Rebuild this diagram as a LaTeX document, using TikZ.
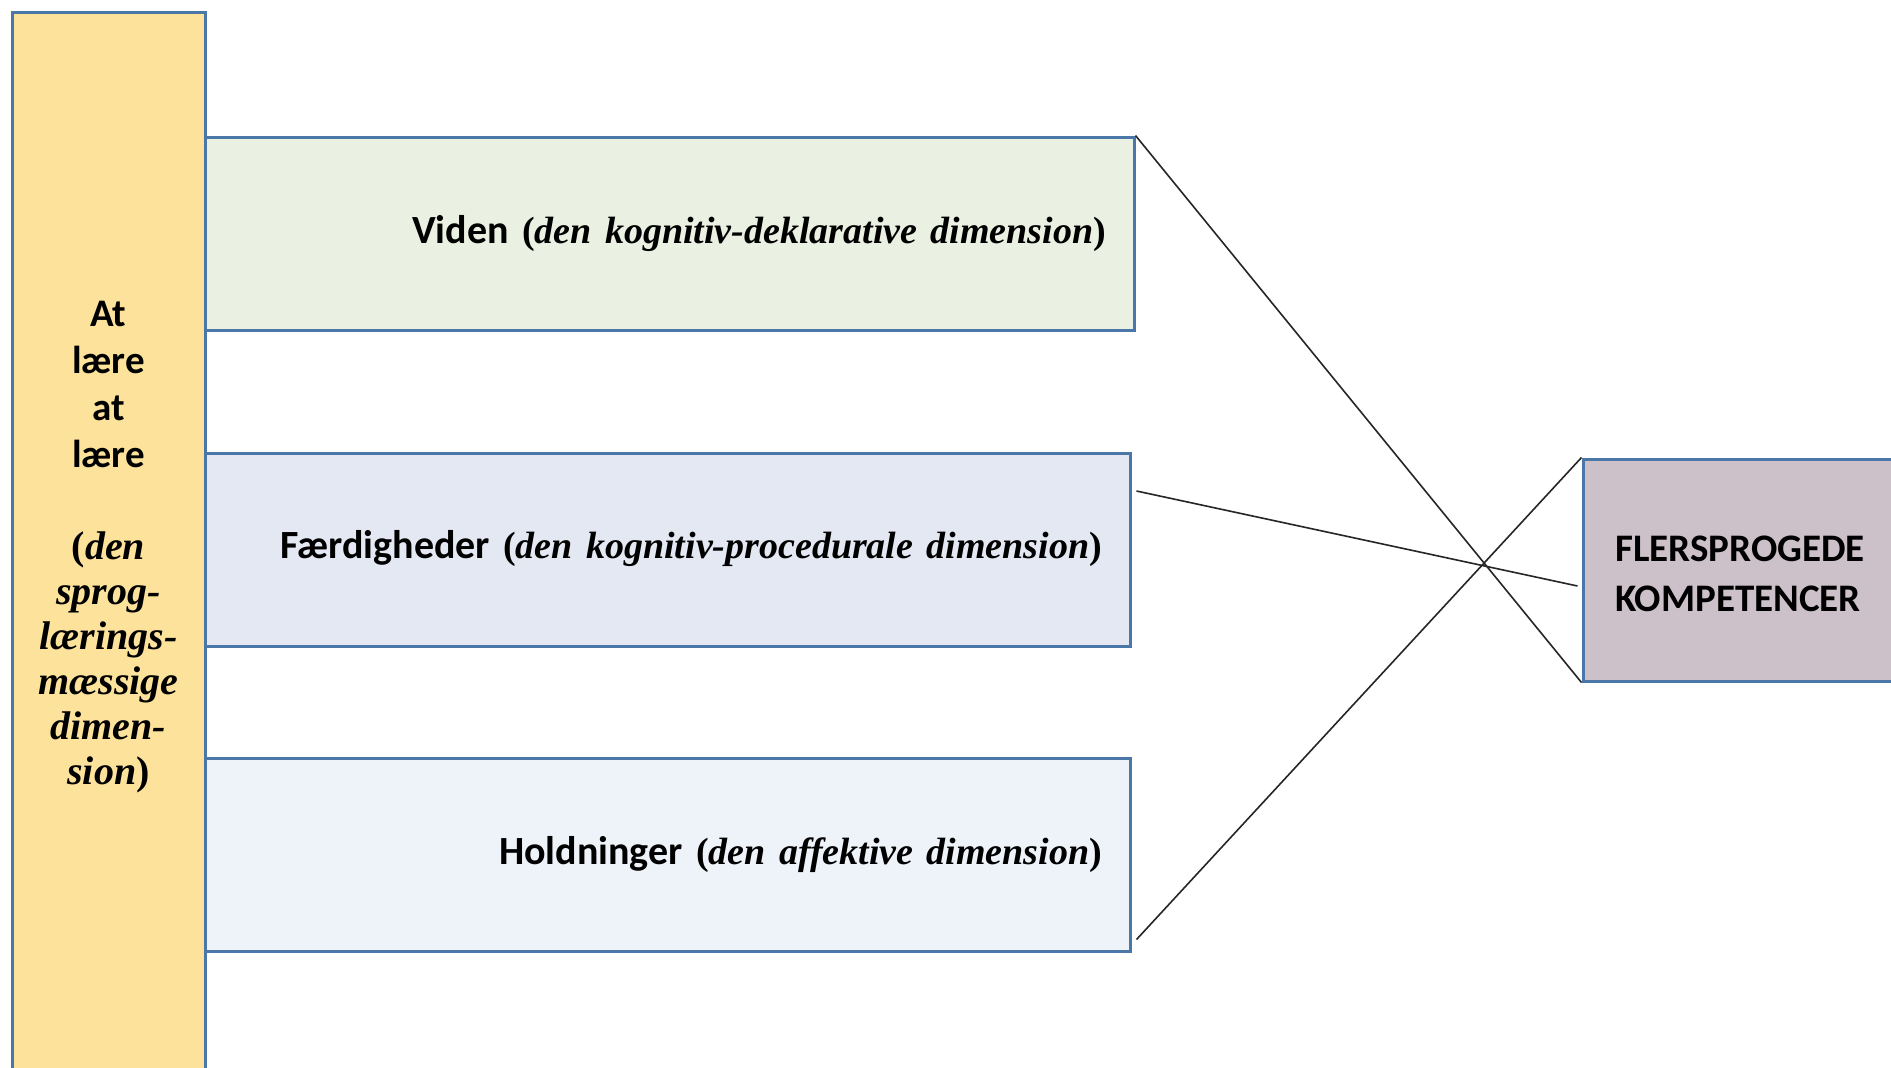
\documentclass[tikz,border=0pt]{standalone}
\usepackage{fontspec}
\setmainfont{Carlito}
\newfontfamily\calfont{Carlito}
\newfontfamily\tnrfont{Liberation Serif}
\usetikzlibrary{calc}
\definecolor{bordc}{HTML}{4A76A8}
\definecolor{yelc}{HTML}{FCE29A}
\definecolor{grnc}{HTML}{EAF1E2}
\definecolor{bluc}{HTML}{E3E8F3}
\definecolor{litc}{HTML}{EEF3F9}
\definecolor{purc}{HTML}{CCC1C9}
\newcommand{\tb}[1]{{\tnrfont\bfseries\fontsize{19pt}{23pt}\selectfont #1}}
\newcommand{\ti}[1]{{\tnrfont\bfseries\itshape\fontsize{19pt}{23pt}\selectfont #1}}
\tikzset{
  box/.style={draw=bordc, line width=1.5pt, rectangle, inner ysep=0pt, inner xsep=14pt, align=right,
    font=\calfont\bfseries\fontsize{20pt}{23pt}\selectfont, minimum height=96.5pt},
  conn/.style={draw=black!85, line width=0.8pt},
}
\begin{document}
\begin{tikzpicture}[x=0.5pt,y=-0.5pt]
\useasboundingbox (0,0) rectangle (1891,1067);
\fill[white] (0,0) rectangle (1891,1067);
% yellow column
\node[draw=bordc, line width=1.5pt, fill=yelc, minimum width=96.5pt, minimum height=534pt, inner sep=0pt] (yel) at (108.5,546) {};
\node[font=\calfont\bfseries\fontsize{19.5pt}{23.5pt}\selectfont, align=center, inner sep=0pt] (ytop) at (108.5,384) {At\\lære\\at\\lære};
\node[font=\fontsize{20pt}{22.5pt}\selectfont, align=center, inner sep=0pt] (ybot) at (108.5,662)
  {{\tnrfont\bfseries (}{\tnrfont\bfseries\itshape den}\\{\tnrfont\bfseries\itshape sprog-}\\{\tnrfont\bfseries\itshape lærings-}\\{\tnrfont\bfseries\itshape mæssige}\\{\tnrfont\bfseries\itshape dimen-}\\{\tnrfont\bfseries\itshape sion}{\tnrfont\bfseries )}};
% dimension boxes
\node[box, fill=grnc, text width=436.5pt] (vid) at (669.5,233.5)
  {Viden \tb{(}\ti{den kognitiv-deklarative dimension}\tb{)}};
\node[box, fill=bluc, text width=434.5pt] (fae) at (667.5,549.5)
  {\raisebox{5pt}{Færdigheder \tb{(}\ti{den kognitiv-procedurale dimension}\tb{)}}};
\node[box, fill=litc, text width=434.5pt] (hol) at (667.5,854.5)
  {Holdninger \tb{(}\ti{den affektive dimension}\tb{)}};
% result box
\node[draw=bordc, line width=1.5pt, fill=purc, minimum width=157pt, minimum height=111pt, inner sep=0pt] (fle) at (1740,570) {};
\node[inner sep=0pt, align=left, font=\calfont\bfseries\fontsize{19.5pt}{25pt}\selectfont] (flet) at (1740,574)
  {FLERSPROGEDE\\KOMPETENCER};
% connectors
\draw[conn] (vid.north east) -- (fle.south west);
\draw[conn] ($(fae.east)+(5,-58.5)$) -- ($(fle.west)+(-4,16)$);
\draw[conn] ($(hol.south east)+(5,-13)$) -- (fle.north west);
\end{tikzpicture}
\end{document}
